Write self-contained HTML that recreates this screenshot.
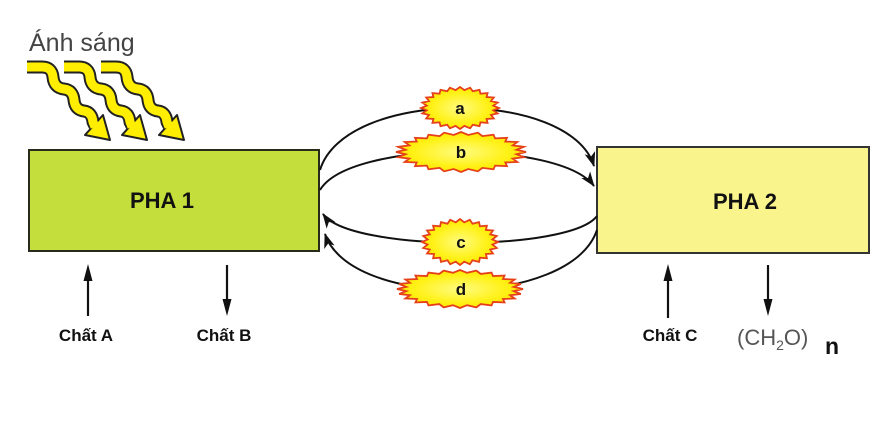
<!DOCTYPE html>
<html><head><meta charset="utf-8">
<style>
html,body{margin:0;padding:0;background:#fff;}
svg{display:block;}
text{font-family:"Liberation Sans",Arial,sans-serif;}
</style></head>
<body>
<svg width="883" height="441" viewBox="0 0 883 441" xmlns="http://www.w3.org/2000/svg">
<defs>
<marker id="ah" markerWidth="15" markerHeight="11" refX="14" refY="5.5" orient="auto" markerUnits="userSpaceOnUse">
<path d="M0,0 L15,5.5 L0,11 L4,5.5 Z" fill="#111"/>
</marker>
<radialGradient id="yg" cx="50%" cy="50%" r="50%">
<stop offset="0%" stop-color="#fffb80"/>
<stop offset="70%" stop-color="#fff21a"/>
<stop offset="100%" stop-color="#ffe600"/>
</radialGradient>
</defs>

<!-- Light text -->
<text x="29" y="51" font-size="25" fill="#444">Ánh sáng</text>

<!-- Wavy arrows -->
<g>
<path d="M27,67 L42,67 Q52,67 53,77 Q54,88 64,89 Q73,90 74,100 Q75,110 84,111 Q92,112 93,122 L95,126" fill="none" stroke="#222" stroke-width="13" stroke-linejoin="round"/>
<polygon points="85,135 103,115 110,140" fill="#ffee00" stroke="#222" stroke-width="2" stroke-linejoin="round"/>
<path d="M27,67 L42,67 Q52,67 53,77 Q54,88 64,89 Q73,90 74,100 Q75,110 84,111 Q92,112 93,122 L95,127" fill="none" stroke="#ffee00" stroke-width="9" stroke-linejoin="round"/>
</g>
<g transform="translate(37,0)">
<path d="M27,67 L42,67 Q52,67 53,77 Q54,88 64,89 Q73,90 74,100 Q75,110 84,111 Q92,112 93,122 L95,126" fill="none" stroke="#222" stroke-width="13" stroke-linejoin="round"/>
<polygon points="85,135 103,115 110,140" fill="#ffee00" stroke="#222" stroke-width="2" stroke-linejoin="round"/>
<path d="M27,67 L42,67 Q52,67 53,77 Q54,88 64,89 Q73,90 74,100 Q75,110 84,111 Q92,112 93,122 L95,127" fill="none" stroke="#ffee00" stroke-width="9" stroke-linejoin="round"/>
</g>
<g transform="translate(74,0)">
<path d="M27,67 L42,67 Q52,67 53,77 Q54,88 64,89 Q73,90 74,100 Q75,110 84,111 Q92,112 93,122 L95,126" fill="none" stroke="#222" stroke-width="13" stroke-linejoin="round"/>
<polygon points="85,135 103,115 110,140" fill="#ffee00" stroke="#222" stroke-width="2" stroke-linejoin="round"/>
<path d="M27,67 L42,67 Q52,67 53,77 Q54,88 64,89 Q73,90 74,100 Q75,110 84,111 Q92,112 93,122 L95,127" fill="none" stroke="#ffee00" stroke-width="9" stroke-linejoin="round"/>
</g>

<!-- Boxes -->
<rect x="29" y="150" width="290" height="101" fill="#c4de3c" stroke="#2a2a1a" stroke-width="2"/>
<text x="162" y="208" font-size="22" font-weight="bold" text-anchor="middle" fill="#111">PHA 1</text>

<rect x="597" y="147" width="272" height="106" fill="#f9f48c" stroke="#333" stroke-width="2"/>
<text x="745" y="209" font-size="22" font-weight="bold" text-anchor="middle" fill="#111">PHA 2</text>

<!-- Arcs -->
<g fill="none" stroke="#111" stroke-width="2">
<path d="M320,170 C345,88 570,88 594,166" marker-end="url(#ah)"/>
<path d="M320,190 C350,140 560,140 594,186" marker-end="url(#ah)"/>
<path d="M597,216 C570,252 350,252 323,214" marker-end="url(#ah)"/>
<path d="M597,230 C570,309 350,309 325,234" marker-end="url(#ah)"/>
</g>

<!-- Bursts -->
<g transform="translate(460,108) scale(0.39,0.21)">
<polygon vector-effect="non-scaling-stroke" fill="url(#yg)" stroke="#e5401a" stroke-width="1.8" points="100,0 85.3,11.2 96.6,25.9 79.5,32.9 86.6,50 68.2,52.4 70.7,70.7 52.4,68.2 50,86.6 32.9,79.5 25.9,96.6 11.2,85.3 0,100 -11.2,85.3 -25.9,96.6 -32.9,79.5 -50,86.6 -52.4,68.2 -70.7,70.7 -68.2,52.4 -86.6,50 -79.5,32.9 -96.6,25.9 -85.3,11.2 -100,0 -85.3,-11.2 -96.6,-25.9 -79.5,-32.9 -86.6,-50 -68.2,-52.4 -70.7,-70.7 -52.4,-68.2 -50,-86.6 -32.9,-79.5 -25.9,-96.6 -11.2,-85.3 0,-100 11.2,-85.3 25.9,-96.6 32.9,-79.5 50,-86.6 52.4,-68.2 70.7,-70.7 68.2,-52.4 86.6,-50 79.5,-32.9 96.6,-25.9 85.3,-11.2"/>
</g>
<g transform="translate(461,152) scale(0.65,0.20)">
<polygon vector-effect="non-scaling-stroke" fill="url(#yg)" stroke="#e5401a" stroke-width="1.8" points="100,0 85.3,11.2 96.6,25.9 79.5,32.9 86.6,50 68.2,52.4 70.7,70.7 52.4,68.2 50,86.6 32.9,79.5 25.9,96.6 11.2,85.3 0,100 -11.2,85.3 -25.9,96.6 -32.9,79.5 -50,86.6 -52.4,68.2 -70.7,70.7 -68.2,52.4 -86.6,50 -79.5,32.9 -96.6,25.9 -85.3,11.2 -100,0 -85.3,-11.2 -96.6,-25.9 -79.5,-32.9 -86.6,-50 -68.2,-52.4 -70.7,-70.7 -52.4,-68.2 -50,-86.6 -32.9,-79.5 -25.9,-96.6 -11.2,-85.3 0,-100 11.2,-85.3 25.9,-96.6 32.9,-79.5 50,-86.6 52.4,-68.2 70.7,-70.7 68.2,-52.4 86.6,-50 79.5,-32.9 96.6,-25.9 85.3,-11.2"/>
</g>
<g transform="translate(460,242) scale(0.38,0.23)">
<polygon vector-effect="non-scaling-stroke" fill="url(#yg)" stroke="#e5401a" stroke-width="1.8" points="100,0 85.3,11.2 96.6,25.9 79.5,32.9 86.6,50 68.2,52.4 70.7,70.7 52.4,68.2 50,86.6 32.9,79.5 25.9,96.6 11.2,85.3 0,100 -11.2,85.3 -25.9,96.6 -32.9,79.5 -50,86.6 -52.4,68.2 -70.7,70.7 -68.2,52.4 -86.6,50 -79.5,32.9 -96.6,25.9 -85.3,11.2 -100,0 -85.3,-11.2 -96.6,-25.9 -79.5,-32.9 -86.6,-50 -68.2,-52.4 -70.7,-70.7 -52.4,-68.2 -50,-86.6 -32.9,-79.5 -25.9,-96.6 -11.2,-85.3 0,-100 11.2,-85.3 25.9,-96.6 32.9,-79.5 50,-86.6 52.4,-68.2 70.7,-70.7 68.2,-52.4 86.6,-50 79.5,-32.9 96.6,-25.9 85.3,-11.2"/>
</g>
<g transform="translate(460,289) scale(0.63,0.19)">
<polygon vector-effect="non-scaling-stroke" fill="url(#yg)" stroke="#e5401a" stroke-width="1.8" points="100,0 85.3,11.2 96.6,25.9 79.5,32.9 86.6,50 68.2,52.4 70.7,70.7 52.4,68.2 50,86.6 32.9,79.5 25.9,96.6 11.2,85.3 0,100 -11.2,85.3 -25.9,96.6 -32.9,79.5 -50,86.6 -52.4,68.2 -70.7,70.7 -68.2,52.4 -86.6,50 -79.5,32.9 -96.6,25.9 -85.3,11.2 -100,0 -85.3,-11.2 -96.6,-25.9 -79.5,-32.9 -86.6,-50 -68.2,-52.4 -70.7,-70.7 -52.4,-68.2 -50,-86.6 -32.9,-79.5 -25.9,-96.6 -11.2,-85.3 0,-100 11.2,-85.3 25.9,-96.6 32.9,-79.5 50,-86.6 52.4,-68.2 70.7,-70.7 68.2,-52.4 86.6,-50 79.5,-32.9 96.6,-25.9 85.3,-11.2"/>
</g>
<g font-size="17" font-weight="bold" text-anchor="middle" fill="#111">
<text x="460" y="114">a</text>
<text x="461" y="158">b</text>
<text x="461" y="248">c</text>
<text x="461" y="295">d</text>
</g>

<!-- Bottom arrows -->
<g stroke="#111" stroke-width="2.2" fill="none">
<line x1="88" y1="316" x2="88" y2="274"/>
<line x1="227" y1="265" x2="227" y2="304"/>
<line x1="668" y1="318" x2="668" y2="274"/>
<line x1="768" y1="265" x2="768" y2="304"/>
</g>
<g fill="#111">
<polygon points="88,264 83.5,281 92.5,281"/>
<polygon points="227,316 222.5,299 231.5,299"/>
<polygon points="668,264 663.5,281 672.5,281"/>
<polygon points="768,316 763.5,299 772.5,299"/>
</g>

<g font-size="17" font-weight="bold" text-anchor="middle" fill="#111">
<text x="86" y="341">Chất A</text>
<text x="224" y="341">Chất B</text>
<text x="670" y="341">Chất C</text>
</g>
<text x="737" y="345" font-size="22" fill="#555">(CH<tspan font-size="14" dy="5">2</tspan><tspan dy="-5">O)</tspan></text>
<text x="825" y="354" font-size="23" font-weight="bold" fill="#111">n</text>
</svg>
</body></html>
